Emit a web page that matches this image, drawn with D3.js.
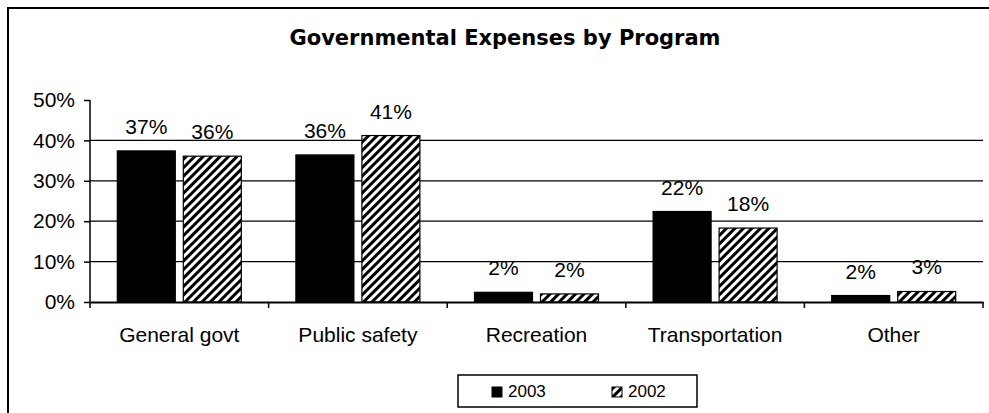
<!DOCTYPE html>
<html lang="en">
<head>
<meta charset="UTF-8">
<title>Governmental Expenses by Program</title>
<style>
  html, body { margin: 0; padding: 0; background: #fff; }
  svg { display: block; }
  text { font-family: "Liberation Sans", Arial, sans-serif; fill: #000; }
</style>
</head>
<body>
<script src="https://cdn.jsdelivr.net/npm/d3@7"></script>
<script>
// chart data (percent)
var categories = ['General govt', 'Public safety', 'Recreation', 'Transportation', 'Other'];
var years = ['2003', '2002'];
var values2003 = [37.4, 36.4, 2.4, 22.4, 1.6];
var values2002 = [36.1, 41.2, 2.0, 18.3, 2.6];
var yTicks = [0, 10, 20, 30, 40, 50];

var width = 989, height = 413;

var svg = d3.select('body').append('svg')
    .attr('width', width)
    .attr('height', height);

var defs = svg.append('defs');

// diagonal hatch for 2002
var hatch = defs.append('pattern')
    .attr('id', 'hatch')
    .attr('patternUnits', 'userSpaceOnUse')
    .attr('width', 6)
    .attr('height', 6)
    .attr('patternTransform', 'rotate(45)');
hatch.append('rect').attr('width', 6).attr('height', 6).attr('fill', '#fff');
hatch.append('rect').attr('width', 3).attr('height', 6).attr('fill', '#000');

// outer chart border (only left and top edges visible in frame)
svg.append('rect')
    .attr('x', 8).attr('y', 8)
    .attr('width', 1200).attr('height', 1200)
    .attr('fill', 'none')
    .attr('stroke', '#000')
    .attr('stroke-width', 2);

svg.append('text')
    .attr('x', 505)
    .attr('y', 45)
    .attr('text-anchor', 'middle')
    .style('font-family', '"DejaVu Sans", Verdana, sans-serif')
    .style('font-weight', 'bold')
    .style('font-size', '21px')
    .text('Governmental Expenses by Program');

var x = d3.scaleBand()
    .domain(categories)
    .range([90, 983])
    .paddingInner(0)
    .paddingOuter(0);

var x1 = d3.scaleBand()
    .domain(years)
    .range([-62, 62])
    .paddingInner(8 / 66)
    .paddingOuter(0);

var y = d3.scaleLinear()
    .domain([0, 50])
    .range([302, 100]);

// gridlines
svg.append('g')
  .selectAll('line')
    .data(yTicks.filter(function(d) { return d > 0 && d < 50; }))
  .enter().append('line')
    .attr('x1', x.range()[0])
    .attr('x2', x.range()[1])
    .attr('y1', function(d) { return y(d); })
    .attr('y2', function(d) { return y(d); })
    .attr('stroke', '#000')
    .attr('stroke-width', 1.3);

// bars
var rows = categories.map(function(c, i) {
  return { cat: c, vals: [ { year: '2003', v: values2003[i] }, { year: '2002', v: values2002[i] } ] };
});

var groups = svg.append('g')
  .selectAll('g')
    .data(rows)
  .enter().append('g')
    .attr('transform', function(d) { return 'translate(' + (x(d.cat) + x.bandwidth() / 2) + ',0)'; });

groups.selectAll('rect')
    .data(function(d) { return d.vals; })
  .enter().append('rect')
    .attr('x', function(d) { return x1(d.year); })
    .attr('width', x1.bandwidth())
    .attr('y', function(d) { return y(d.v); })
    .attr('height', function(d) { return y(0) - y(d.v); })
    .attr('fill', function(d) { return d.year === '2003' ? '#000' : 'url(#hatch)'; })
    .attr('stroke', '#000')
    .attr('stroke-width', 1.2);

groups.selectAll('text')
    .data(function(d) { return d.vals; })
  .enter().append('text')
    .attr('x', function(d) { return x1(d.year) + x1.bandwidth() / 2; })
    .attr('y', function(d) { return y(d.v) - 17; })
    .attr('text-anchor', 'middle')
    .style('font-size', '21px')
    .text(function(d) { return Math.round(d.v) + '%'; });

// y axis
var yAxis = svg.append('g')
    .attr('transform', 'translate(90,0)')
    .call(d3.axisLeft(y)
      .tickValues(yTicks)
      .tickSize(6)
      .tickPadding(9)
      .tickFormat(function(d) { return d + '%'; }));
yAxis.select('.domain').attr('stroke', '#000').attr('stroke-width', 1.5)
    .attr('d', 'M0,' + y(50) + 'V' + y(0));
yAxis.selectAll('.tick line').attr('stroke', '#000').attr('stroke-width', 1.5);
yAxis.selectAll('.tick text')
    .style('font-family', '"Liberation Sans", Arial, sans-serif')
    .style('font-size', '21px')
    .attr('fill', '#000');

// x axis
var xAxis = svg.append('g')
    .attr('transform', 'translate(0,' + y(0) + ')')
    .call(d3.axisBottom(x).tickSize(0).tickPadding(25));
xAxis.select('.domain').attr('stroke', '#000').attr('stroke-width', 2);
xAxis.selectAll('.tick text')
    .style('font-family', '"Liberation Sans", Arial, sans-serif')
    .style('font-size', '21px')
    .attr('fill', '#000');

// category boundary ticks
var bounds = categories.map(function(c) { return x(c); }).concat([x.range()[1]]);
xAxis.selectAll('line.bound')
    .data(bounds)
  .enter().append('line')
    .attr('class', 'bound')
    .attr('x1', function(d) { return d; })
    .attr('x2', function(d) { return d; })
    .attr('y1', 0)
    .attr('y2', 6)
    .attr('stroke', '#000')
    .attr('stroke-width', 1.5);

// legend
var legend = svg.append('g');
legend.append('rect')
    .attr('x', 458).attr('y', 375)
    .attr('width', 239).attr('height', 32)
    .attr('fill', '#fff')
    .attr('stroke', '#000')
    .attr('stroke-width', 1.5);

var items = legend.selectAll('g.item')
    .data(years)
  .enter().append('g')
    .attr('class', 'item')
    .attr('transform', function(d, i) { return 'translate(' + (492 + i * 120) + ',387)'; });

items.append('rect')
    .attr('width', 10).attr('height', 10)
    .attr('fill', function(d) { return d === '2003' ? '#000' : 'url(#hatch)'; })
    .attr('stroke', '#000')
    .attr('stroke-width', 1);

items.append('text')
    .attr('x', 16)
    .attr('y', 10)
    .style('font-size', '17px')
    .text(function(d) { return d; });
</script>
</body>
</html>
